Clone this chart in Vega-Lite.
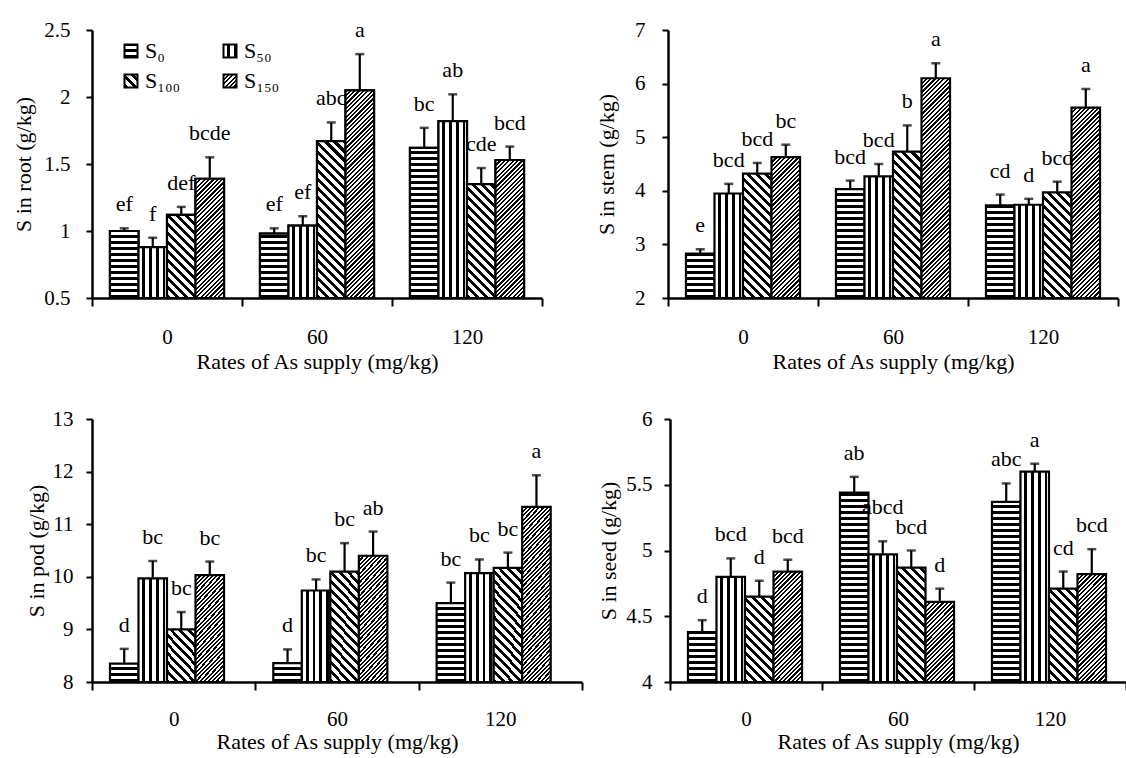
{
"$schema":"https://vega.github.io/schema/vega-lite/v6.json",
"background":"white",
"padding":{"left":12,"top":19,"right":0,"bottom":8},
"params":[
{"name":"stH","value":[{"offset":0,"color":"#000"},{"offset":0.011,"color":"#000"},{"offset":0.011,"color":"#fff"},{"offset":0.025,"color":"#fff"},{"offset":0.025,"color":"#000"},{"offset":0.036,"color":"#000"},{"offset":0.036,"color":"#fff"},{"offset":0.05,"color":"#fff"},{"offset":0.05,"color":"#000"},{"offset":0.061,"color":"#000"},{"offset":0.061,"color":"#fff"},{"offset":0.075,"color":"#fff"},{"offset":0.075,"color":"#000"},{"offset":0.086,"color":"#000"},{"offset":0.086,"color":"#fff"},{"offset":0.1,"color":"#fff"},{"offset":0.1,"color":"#000"},{"offset":0.111,"color":"#000"},{"offset":0.111,"color":"#fff"},{"offset":0.125,"color":"#fff"},{"offset":0.125,"color":"#000"},{"offset":0.136,"color":"#000"},{"offset":0.136,"color":"#fff"},{"offset":0.15,"color":"#fff"},{"offset":0.15,"color":"#000"},{"offset":0.161,"color":"#000"},{"offset":0.161,"color":"#fff"},{"offset":0.175,"color":"#fff"},{"offset":0.175,"color":"#000"},{"offset":0.186,"color":"#000"},{"offset":0.186,"color":"#fff"},{"offset":0.2,"color":"#fff"},{"offset":0.2,"color":"#000"},{"offset":0.211,"color":"#000"},{"offset":0.211,"color":"#fff"},{"offset":0.225,"color":"#fff"},{"offset":0.225,"color":"#000"},{"offset":0.236,"color":"#000"},{"offset":0.236,"color":"#fff"},{"offset":0.25,"color":"#fff"},{"offset":0.25,"color":"#000"},{"offset":0.261,"color":"#000"},{"offset":0.261,"color":"#fff"},{"offset":0.275,"color":"#fff"},{"offset":0.275,"color":"#000"},{"offset":0.286,"color":"#000"},{"offset":0.286,"color":"#fff"},{"offset":0.3,"color":"#fff"},{"offset":0.3,"color":"#000"},{"offset":0.311,"color":"#000"},{"offset":0.311,"color":"#fff"},{"offset":0.325,"color":"#fff"},{"offset":0.325,"color":"#000"},{"offset":0.336,"color":"#000"},{"offset":0.336,"color":"#fff"},{"offset":0.35,"color":"#fff"},{"offset":0.35,"color":"#000"},{"offset":0.361,"color":"#000"},{"offset":0.361,"color":"#fff"},{"offset":0.375,"color":"#fff"},{"offset":0.375,"color":"#000"},{"offset":0.386,"color":"#000"},{"offset":0.386,"color":"#fff"},{"offset":0.4,"color":"#fff"},{"offset":0.4,"color":"#000"},{"offset":0.411,"color":"#000"},{"offset":0.411,"color":"#fff"},{"offset":0.425,"color":"#fff"},{"offset":0.425,"color":"#000"},{"offset":0.436,"color":"#000"},{"offset":0.436,"color":"#fff"},{"offset":0.45,"color":"#fff"},{"offset":0.45,"color":"#000"},{"offset":0.461,"color":"#000"},{"offset":0.461,"color":"#fff"},{"offset":0.475,"color":"#fff"},{"offset":0.475,"color":"#000"},{"offset":0.486,"color":"#000"},{"offset":0.486,"color":"#fff"},{"offset":0.5,"color":"#fff"},{"offset":0.5,"color":"#000"},{"offset":0.511,"color":"#000"},{"offset":0.511,"color":"#fff"},{"offset":0.525,"color":"#fff"},{"offset":0.525,"color":"#000"},{"offset":0.536,"color":"#000"},{"offset":0.536,"color":"#fff"},{"offset":0.55,"color":"#fff"},{"offset":0.55,"color":"#000"},{"offset":0.561,"color":"#000"},{"offset":0.561,"color":"#fff"},{"offset":0.575,"color":"#fff"},{"offset":0.575,"color":"#000"},{"offset":0.586,"color":"#000"},{"offset":0.586,"color":"#fff"},{"offset":0.6,"color":"#fff"},{"offset":0.6,"color":"#000"},{"offset":0.611,"color":"#000"},{"offset":0.611,"color":"#fff"},{"offset":0.625,"color":"#fff"},{"offset":0.625,"color":"#000"},{"offset":0.636,"color":"#000"},{"offset":0.636,"color":"#fff"},{"offset":0.65,"color":"#fff"},{"offset":0.65,"color":"#000"},{"offset":0.661,"color":"#000"},{"offset":0.661,"color":"#fff"},{"offset":0.675,"color":"#fff"},{"offset":0.675,"color":"#000"},{"offset":0.686,"color":"#000"},{"offset":0.686,"color":"#fff"},{"offset":0.7,"color":"#fff"},{"offset":0.7,"color":"#000"},{"offset":0.711,"color":"#000"},{"offset":0.711,"color":"#fff"},{"offset":0.725,"color":"#fff"},{"offset":0.725,"color":"#000"},{"offset":0.736,"color":"#000"},{"offset":0.736,"color":"#fff"},{"offset":0.75,"color":"#fff"},{"offset":0.75,"color":"#000"},{"offset":0.761,"color":"#000"},{"offset":0.761,"color":"#fff"},{"offset":0.775,"color":"#fff"},{"offset":0.775,"color":"#000"},{"offset":0.786,"color":"#000"},{"offset":0.786,"color":"#fff"},{"offset":0.8,"color":"#fff"},{"offset":0.8,"color":"#000"},{"offset":0.811,"color":"#000"},{"offset":0.811,"color":"#fff"},{"offset":0.825,"color":"#fff"},{"offset":0.825,"color":"#000"},{"offset":0.836,"color":"#000"},{"offset":0.836,"color":"#fff"},{"offset":0.85,"color":"#fff"},{"offset":0.85,"color":"#000"},{"offset":0.861,"color":"#000"},{"offset":0.861,"color":"#fff"},{"offset":0.875,"color":"#fff"},{"offset":0.875,"color":"#000"},{"offset":0.886,"color":"#000"},{"offset":0.886,"color":"#fff"},{"offset":0.9,"color":"#fff"},{"offset":0.9,"color":"#000"},{"offset":0.911,"color":"#000"},{"offset":0.911,"color":"#fff"},{"offset":0.925,"color":"#fff"},{"offset":0.925,"color":"#000"},{"offset":0.936,"color":"#000"},{"offset":0.936,"color":"#fff"},{"offset":0.95,"color":"#fff"},{"offset":0.95,"color":"#000"},{"offset":0.961,"color":"#000"},{"offset":0.961,"color":"#fff"},{"offset":0.975,"color":"#fff"},{"offset":0.975,"color":"#000"},{"offset":0.986,"color":"#000"},{"offset":0.986,"color":"#fff"},{"offset":1,"color":"#fff"}]},
{"name":"stV","value":[{"offset":0,"color":"#fff"},{"offset":0.14,"color":"#fff"},{"offset":0.14,"color":"#000"},{"offset":0.235,"color":"#000"},{"offset":0.235,"color":"#fff"},{"offset":0.375,"color":"#fff"},{"offset":0.375,"color":"#000"},{"offset":0.47,"color":"#000"},{"offset":0.47,"color":"#fff"},{"offset":0.61,"color":"#fff"},{"offset":0.61,"color":"#000"},{"offset":0.705,"color":"#000"},{"offset":0.705,"color":"#fff"},{"offset":0.845,"color":"#fff"},{"offset":0.845,"color":"#000"},{"offset":0.94,"color":"#000"},{"offset":0.94,"color":"#fff"},{"offset":1,"color":"#fff"}]},
{"name":"stB","value":[{"offset":0,"color":"#000"},{"offset":0.018,"color":"#000"},{"offset":0.018,"color":"#fff"},{"offset":0.04,"color":"#fff"},{"offset":0.04,"color":"#000"},{"offset":0.058,"color":"#000"},{"offset":0.058,"color":"#fff"},{"offset":0.08,"color":"#fff"},{"offset":0.08,"color":"#000"},{"offset":0.098,"color":"#000"},{"offset":0.098,"color":"#fff"},{"offset":0.12,"color":"#fff"},{"offset":0.12,"color":"#000"},{"offset":0.138,"color":"#000"},{"offset":0.138,"color":"#fff"},{"offset":0.16,"color":"#fff"},{"offset":0.16,"color":"#000"},{"offset":0.178,"color":"#000"},{"offset":0.178,"color":"#fff"},{"offset":0.2,"color":"#fff"},{"offset":0.2,"color":"#000"},{"offset":0.218,"color":"#000"},{"offset":0.218,"color":"#fff"},{"offset":0.24,"color":"#fff"},{"offset":0.24,"color":"#000"},{"offset":0.258,"color":"#000"},{"offset":0.258,"color":"#fff"},{"offset":0.28,"color":"#fff"},{"offset":0.28,"color":"#000"},{"offset":0.298,"color":"#000"},{"offset":0.298,"color":"#fff"},{"offset":0.32,"color":"#fff"},{"offset":0.32,"color":"#000"},{"offset":0.338,"color":"#000"},{"offset":0.338,"color":"#fff"},{"offset":0.36,"color":"#fff"},{"offset":0.36,"color":"#000"},{"offset":0.378,"color":"#000"},{"offset":0.378,"color":"#fff"},{"offset":0.4,"color":"#fff"},{"offset":0.4,"color":"#000"},{"offset":0.418,"color":"#000"},{"offset":0.418,"color":"#fff"},{"offset":0.44,"color":"#fff"},{"offset":0.44,"color":"#000"},{"offset":0.458,"color":"#000"},{"offset":0.458,"color":"#fff"},{"offset":0.48,"color":"#fff"},{"offset":0.48,"color":"#000"},{"offset":0.498,"color":"#000"},{"offset":0.498,"color":"#fff"},{"offset":0.52,"color":"#fff"},{"offset":0.52,"color":"#000"},{"offset":0.538,"color":"#000"},{"offset":0.538,"color":"#fff"},{"offset":0.56,"color":"#fff"},{"offset":0.56,"color":"#000"},{"offset":0.578,"color":"#000"},{"offset":0.578,"color":"#fff"},{"offset":0.6,"color":"#fff"},{"offset":0.6,"color":"#000"},{"offset":0.618,"color":"#000"},{"offset":0.618,"color":"#fff"},{"offset":0.64,"color":"#fff"},{"offset":0.64,"color":"#000"},{"offset":0.658,"color":"#000"},{"offset":0.658,"color":"#fff"},{"offset":0.68,"color":"#fff"},{"offset":0.68,"color":"#000"},{"offset":0.698,"color":"#000"},{"offset":0.698,"color":"#fff"},{"offset":0.72,"color":"#fff"},{"offset":0.72,"color":"#000"},{"offset":0.738,"color":"#000"},{"offset":0.738,"color":"#fff"},{"offset":0.76,"color":"#fff"},{"offset":0.76,"color":"#000"},{"offset":0.778,"color":"#000"},{"offset":0.778,"color":"#fff"},{"offset":0.8,"color":"#fff"},{"offset":0.8,"color":"#000"},{"offset":0.818,"color":"#000"},{"offset":0.818,"color":"#fff"},{"offset":0.84,"color":"#fff"},{"offset":0.84,"color":"#000"},{"offset":0.858,"color":"#000"},{"offset":0.858,"color":"#fff"},{"offset":0.88,"color":"#fff"},{"offset":0.88,"color":"#000"},{"offset":0.898,"color":"#000"},{"offset":0.898,"color":"#fff"},{"offset":0.92,"color":"#fff"},{"offset":0.92,"color":"#000"},{"offset":0.938,"color":"#000"},{"offset":0.938,"color":"#fff"},{"offset":0.96,"color":"#fff"},{"offset":0.96,"color":"#000"},{"offset":0.978,"color":"#000"},{"offset":0.978,"color":"#fff"},{"offset":1,"color":"#fff"}]},
{"name":"stF","value":[{"offset":0,"color":"#000"},{"offset":0.008,"color":"#000"},{"offset":0.008,"color":"#fff"},{"offset":0.016,"color":"#fff"},{"offset":0.016,"color":"#000"},{"offset":0.024,"color":"#000"},{"offset":0.024,"color":"#fff"},{"offset":0.032,"color":"#fff"},{"offset":0.032,"color":"#000"},{"offset":0.04,"color":"#000"},{"offset":0.04,"color":"#fff"},{"offset":0.048,"color":"#fff"},{"offset":0.048,"color":"#000"},{"offset":0.056,"color":"#000"},{"offset":0.056,"color":"#fff"},{"offset":0.064,"color":"#fff"},{"offset":0.064,"color":"#000"},{"offset":0.072,"color":"#000"},{"offset":0.072,"color":"#fff"},{"offset":0.08,"color":"#fff"},{"offset":0.08,"color":"#000"},{"offset":0.088,"color":"#000"},{"offset":0.088,"color":"#fff"},{"offset":0.096,"color":"#fff"},{"offset":0.096,"color":"#000"},{"offset":0.104,"color":"#000"},{"offset":0.104,"color":"#fff"},{"offset":0.112,"color":"#fff"},{"offset":0.112,"color":"#000"},{"offset":0.12,"color":"#000"},{"offset":0.12,"color":"#fff"},{"offset":0.128,"color":"#fff"},{"offset":0.128,"color":"#000"},{"offset":0.136,"color":"#000"},{"offset":0.136,"color":"#fff"},{"offset":0.144,"color":"#fff"},{"offset":0.144,"color":"#000"},{"offset":0.152,"color":"#000"},{"offset":0.152,"color":"#fff"},{"offset":0.16,"color":"#fff"},{"offset":0.16,"color":"#000"},{"offset":0.168,"color":"#000"},{"offset":0.168,"color":"#fff"},{"offset":0.176,"color":"#fff"},{"offset":0.176,"color":"#000"},{"offset":0.184,"color":"#000"},{"offset":0.184,"color":"#fff"},{"offset":0.192,"color":"#fff"},{"offset":0.192,"color":"#000"},{"offset":0.2,"color":"#000"},{"offset":0.2,"color":"#fff"},{"offset":0.208,"color":"#fff"},{"offset":0.208,"color":"#000"},{"offset":0.216,"color":"#000"},{"offset":0.216,"color":"#fff"},{"offset":0.224,"color":"#fff"},{"offset":0.224,"color":"#000"},{"offset":0.232,"color":"#000"},{"offset":0.232,"color":"#fff"},{"offset":0.24,"color":"#fff"},{"offset":0.24,"color":"#000"},{"offset":0.248,"color":"#000"},{"offset":0.248,"color":"#fff"},{"offset":0.256,"color":"#fff"},{"offset":0.256,"color":"#000"},{"offset":0.264,"color":"#000"},{"offset":0.264,"color":"#fff"},{"offset":0.272,"color":"#fff"},{"offset":0.272,"color":"#000"},{"offset":0.28,"color":"#000"},{"offset":0.28,"color":"#fff"},{"offset":0.288,"color":"#fff"},{"offset":0.288,"color":"#000"},{"offset":0.296,"color":"#000"},{"offset":0.296,"color":"#fff"},{"offset":0.304,"color":"#fff"},{"offset":0.304,"color":"#000"},{"offset":0.312,"color":"#000"},{"offset":0.312,"color":"#fff"},{"offset":0.32,"color":"#fff"},{"offset":0.32,"color":"#000"},{"offset":0.328,"color":"#000"},{"offset":0.328,"color":"#fff"},{"offset":0.336,"color":"#fff"},{"offset":0.336,"color":"#000"},{"offset":0.344,"color":"#000"},{"offset":0.344,"color":"#fff"},{"offset":0.352,"color":"#fff"},{"offset":0.352,"color":"#000"},{"offset":0.36,"color":"#000"},{"offset":0.36,"color":"#fff"},{"offset":0.368,"color":"#fff"},{"offset":0.368,"color":"#000"},{"offset":0.376,"color":"#000"},{"offset":0.376,"color":"#fff"},{"offset":0.384,"color":"#fff"},{"offset":0.384,"color":"#000"},{"offset":0.392,"color":"#000"},{"offset":0.392,"color":"#fff"},{"offset":0.4,"color":"#fff"},{"offset":0.4,"color":"#000"},{"offset":0.408,"color":"#000"},{"offset":0.408,"color":"#fff"},{"offset":0.416,"color":"#fff"},{"offset":0.416,"color":"#000"},{"offset":0.424,"color":"#000"},{"offset":0.424,"color":"#fff"},{"offset":0.432,"color":"#fff"},{"offset":0.432,"color":"#000"},{"offset":0.44,"color":"#000"},{"offset":0.44,"color":"#fff"},{"offset":0.448,"color":"#fff"},{"offset":0.448,"color":"#000"},{"offset":0.456,"color":"#000"},{"offset":0.456,"color":"#fff"},{"offset":0.464,"color":"#fff"},{"offset":0.464,"color":"#000"},{"offset":0.472,"color":"#000"},{"offset":0.472,"color":"#fff"},{"offset":0.48,"color":"#fff"},{"offset":0.48,"color":"#000"},{"offset":0.488,"color":"#000"},{"offset":0.488,"color":"#fff"},{"offset":0.496,"color":"#fff"},{"offset":0.496,"color":"#000"},{"offset":0.504,"color":"#000"},{"offset":0.504,"color":"#fff"},{"offset":0.512,"color":"#fff"},{"offset":0.512,"color":"#000"},{"offset":0.52,"color":"#000"},{"offset":0.52,"color":"#fff"},{"offset":0.528,"color":"#fff"},{"offset":0.528,"color":"#000"},{"offset":0.536,"color":"#000"},{"offset":0.536,"color":"#fff"},{"offset":0.544,"color":"#fff"},{"offset":0.544,"color":"#000"},{"offset":0.552,"color":"#000"},{"offset":0.552,"color":"#fff"},{"offset":0.56,"color":"#fff"},{"offset":0.56,"color":"#000"},{"offset":0.568,"color":"#000"},{"offset":0.568,"color":"#fff"},{"offset":0.576,"color":"#fff"},{"offset":0.576,"color":"#000"},{"offset":0.584,"color":"#000"},{"offset":0.584,"color":"#fff"},{"offset":0.592,"color":"#fff"},{"offset":0.592,"color":"#000"},{"offset":0.6,"color":"#000"},{"offset":0.6,"color":"#fff"},{"offset":0.608,"color":"#fff"},{"offset":0.608,"color":"#000"},{"offset":0.616,"color":"#000"},{"offset":0.616,"color":"#fff"},{"offset":0.624,"color":"#fff"},{"offset":0.624,"color":"#000"},{"offset":0.632,"color":"#000"},{"offset":0.632,"color":"#fff"},{"offset":0.64,"color":"#fff"},{"offset":0.64,"color":"#000"},{"offset":0.648,"color":"#000"},{"offset":0.648,"color":"#fff"},{"offset":0.656,"color":"#fff"},{"offset":0.656,"color":"#000"},{"offset":0.664,"color":"#000"},{"offset":0.664,"color":"#fff"},{"offset":0.672,"color":"#fff"},{"offset":0.672,"color":"#000"},{"offset":0.68,"color":"#000"},{"offset":0.68,"color":"#fff"},{"offset":0.688,"color":"#fff"},{"offset":0.688,"color":"#000"},{"offset":0.696,"color":"#000"},{"offset":0.696,"color":"#fff"},{"offset":0.704,"color":"#fff"},{"offset":0.704,"color":"#000"},{"offset":0.712,"color":"#000"},{"offset":0.712,"color":"#fff"},{"offset":0.72,"color":"#fff"},{"offset":0.72,"color":"#000"},{"offset":0.728,"color":"#000"},{"offset":0.728,"color":"#fff"},{"offset":0.736,"color":"#fff"},{"offset":0.736,"color":"#000"},{"offset":0.744,"color":"#000"},{"offset":0.744,"color":"#fff"},{"offset":0.752,"color":"#fff"},{"offset":0.752,"color":"#000"},{"offset":0.76,"color":"#000"},{"offset":0.76,"color":"#fff"},{"offset":0.768,"color":"#fff"},{"offset":0.768,"color":"#000"},{"offset":0.776,"color":"#000"},{"offset":0.776,"color":"#fff"},{"offset":0.784,"color":"#fff"},{"offset":0.784,"color":"#000"},{"offset":0.792,"color":"#000"},{"offset":0.792,"color":"#fff"},{"offset":0.8,"color":"#fff"},{"offset":0.8,"color":"#000"},{"offset":0.808,"color":"#000"},{"offset":0.808,"color":"#fff"},{"offset":0.816,"color":"#fff"},{"offset":0.816,"color":"#000"},{"offset":0.824,"color":"#000"},{"offset":0.824,"color":"#fff"},{"offset":0.832,"color":"#fff"},{"offset":0.832,"color":"#000"},{"offset":0.84,"color":"#000"},{"offset":0.84,"color":"#fff"},{"offset":0.848,"color":"#fff"},{"offset":0.848,"color":"#000"},{"offset":0.856,"color":"#000"},{"offset":0.856,"color":"#fff"},{"offset":0.864,"color":"#fff"},{"offset":0.864,"color":"#000"},{"offset":0.872,"color":"#000"},{"offset":0.872,"color":"#fff"},{"offset":0.88,"color":"#fff"},{"offset":0.88,"color":"#000"},{"offset":0.888,"color":"#000"},{"offset":0.888,"color":"#fff"},{"offset":0.896,"color":"#fff"},{"offset":0.896,"color":"#000"},{"offset":0.904,"color":"#000"},{"offset":0.904,"color":"#fff"},{"offset":0.912,"color":"#fff"},{"offset":0.912,"color":"#000"},{"offset":0.92,"color":"#000"},{"offset":0.92,"color":"#fff"},{"offset":0.928,"color":"#fff"},{"offset":0.928,"color":"#000"},{"offset":0.936,"color":"#000"},{"offset":0.936,"color":"#fff"},{"offset":0.944,"color":"#fff"},{"offset":0.944,"color":"#000"},{"offset":0.952,"color":"#000"},{"offset":0.952,"color":"#fff"},{"offset":0.96,"color":"#fff"},{"offset":0.96,"color":"#000"},{"offset":0.968,"color":"#000"},{"offset":0.968,"color":"#fff"},{"offset":0.976,"color":"#fff"},{"offset":0.976,"color":"#000"},{"offset":0.984,"color":"#000"},{"offset":0.984,"color":"#fff"},{"offset":0.992,"color":"#fff"},{"offset":0.992,"color":"#000"},{"offset":1,"color":"#000"}]}
],
"datasets":{
"dRoot":[
{"rate":"0","s":"S0","v":1.0,"up":1.02,"lab":"ef"},
{"rate":"0","s":"S50","v":0.88,"up":0.95,"lab":"f"},
{"rate":"0","s":"S100","v":1.12,"up":1.18,"lab":"def"},
{"rate":"0","s":"S150","v":1.39,"up":1.55,"lab":"bcde"},
{"rate":"60","s":"S0","v":0.98,"up":1.02,"lab":"ef"},
{"rate":"60","s":"S50","v":1.04,"up":1.11,"lab":"ef"},
{"rate":"60","s":"S100","v":1.67,"up":1.81,"lab":"abc"},
{"rate":"60","s":"S150","v":2.05,"up":2.32,"lab":"a"},
{"rate":"120","s":"S0","v":1.62,"up":1.77,"lab":"bc"},
{"rate":"120","s":"S50","v":1.82,"up":2.02,"lab":"ab"},
{"rate":"120","s":"S100","v":1.35,"up":1.47,"lab":"cde"},
{"rate":"120","s":"S150","v":1.53,"up":1.63,"lab":"bcd"}],
"dStem":[
{"rate":"0","s":"S0","v":2.83,"up":2.91,"lab":"e"},
{"rate":"0","s":"S50","v":3.95,"up":4.13,"lab":"bcd"},
{"rate":"0","s":"S100","v":4.32,"up":4.52,"lab":"bcd"},
{"rate":"0","s":"S150","v":4.63,"up":4.86,"lab":"bc"},
{"rate":"60","s":"S0","v":4.03,"up":4.19,"lab":"bcd"},
{"rate":"60","s":"S50","v":4.27,"up":4.5,"lab":"bcd"},
{"rate":"60","s":"S100","v":4.73,"up":5.22,"lab":"b"},
{"rate":"60","s":"S150","v":6.1,"up":6.38,"lab":"a"},
{"rate":"120","s":"S0","v":3.73,"up":3.93,"lab":"cd"},
{"rate":"120","s":"S50","v":3.74,"up":3.85,"lab":"d"},
{"rate":"120","s":"S100","v":3.97,"up":4.17,"lab":"bcd"},
{"rate":"120","s":"S150","v":5.55,"up":5.9,"lab":"a"}],
"dPod":[
{"rate":"0","s":"S0","v":8.35,"up":8.63,"lab":"d"},
{"rate":"0","s":"S50","v":9.97,"up":10.3,"lab":"bc"},
{"rate":"0","s":"S100","v":9.0,"up":9.33,"lab":"bc"},
{"rate":"0","s":"S150","v":10.03,"up":10.29,"lab":"bc"},
{"rate":"60","s":"S0","v":8.36,"up":8.62,"lab":"d"},
{"rate":"60","s":"S50","v":9.74,"up":9.95,"lab":"bc"},
{"rate":"60","s":"S100","v":10.1,"up":10.64,"lab":"bc"},
{"rate":"60","s":"S150","v":10.4,"up":10.86,"lab":"ab"},
{"rate":"120","s":"S0","v":9.5,"up":9.89,"lab":"bc"},
{"rate":"120","s":"S50","v":10.07,"up":10.33,"lab":"bc"},
{"rate":"120","s":"S100","v":10.17,"up":10.46,"lab":"bc"},
{"rate":"120","s":"S150","v":11.33,"up":11.93,"lab":"a"}],
"dSeed":[
{"rate":"0","s":"S0","v":4.38,"up":4.47,"lab":"d"},
{"rate":"0","s":"S50","v":4.8,"up":4.94,"lab":"bcd"},
{"rate":"0","s":"S100","v":4.65,"up":4.77,"lab":"d"},
{"rate":"0","s":"S150","v":4.84,"up":4.93,"lab":"bcd"},
{"rate":"60","s":"S0","v":5.44,"up":5.56,"lab":"ab"},
{"rate":"60","s":"S50","v":4.97,"up":5.07,"lab":"abcd"},
{"rate":"60","s":"S100","v":4.87,"up":5.0,"lab":"bcd"},
{"rate":"60","s":"S150","v":4.61,"up":4.71,"lab":"d"},
{"rate":"120","s":"S0","v":5.37,"up":5.51,"lab":"abc"},
{"rate":"120","s":"S50","v":5.6,"up":5.66,"lab":"a"},
{"rate":"120","s":"S100","v":4.71,"up":4.84,"lab":"cd"},
{"rate":"120","s":"S150","v":4.82,"up":5.01,"lab":"bcd"}]
},
"config":{
"view":{"stroke":null},
"font":"Liberation Serif",
"axis":{"domainColor":"#000","domainWidth":2.5,"tickColor":"#000","tickWidth":2,"labelFont":"Liberation Serif","labelFontSize":21,"labelColor":"#000","titleFont":"Liberation Serif","titleFontSize":22,"titleFontWeight":"normal","titleColor":"#000","grid":false},
"axisX":{"tickBand":"extent","tickSize":8,"labelPadding":20,"titlePadding":4,"labelAngle":0},
"axisY":{"tickSize":6,"labelPadding":16},
"text":{"font":"Liberation Serif","fontSize":22,"color":"#000"}
},
"resolve":{"scale":{"fill":"independent"},"legend":{"fill":"independent"}},
"align":"none",
"spacing":36,
"vconcat":[
{"spacing":52,"resolve":{"scale":{"fill":"independent"},"legend":{"fill":"independent"}},"hconcat":[
{"width":450,"height":268,"data":{"name":"dRoot"},
"encoding":{
"x":{"field":"rate","type":"nominal","sort":["0","60","120"],"scale":{"paddingInner":0,"paddingOuter":0},"axis":{"title":"Rates of As supply (mg/kg)","labelPadding":20,"titlePadding":4}},
"xOffset":{"field":"s","type":"nominal","sort":["S0","S50","S100","S150"],"scale":{"paddingInner":0,"paddingOuter":0.63}}},
"layer":[
{"mark":{"type":"bar","stroke":"#000","strokeWidth":2.2},
"encoding":{
"y":{"field":"v","type":"quantitative","stack":null,"scale":{"domain":[0.5,2.5],"nice":false,"zero":false},"axis":{"values":[0.5,1,1.5,2,2.5],"format":"~g","title":"S in root (g/kg)","titlePadding":8,"labelPadding":16}},
"y2":{"datum":0.5},
"fill":{"field":"s","type":"nominal","scale":{"domain":["S0","S50","S100","S150"],"range":[{"expr":"{gradient:'linear',x1:0,y1:1,x2:0,y2:-17.46,stops:stH}"},{"expr":"{gradient:'linear',x1:0,y1:0,x2:2.19,y2:0,stops:stV}"},{"expr":"{gradient:'linear',x1:0,y1:1,x2:8.704,y2:-7.704,stops:stB}"},{"expr":"{gradient:'linear',x1:0,y1:0,x2:10.554,y2:10.554,stops:stF}"}]},
"legend":{"orient":"none","legendX":28,"legendY":10,"direction":"horizontal","columns":2,"title":null,"symbolType":"square","symbolSize":169,"symbolStrokeColor":"#000","symbolStrokeWidth":2,"labelFont":"Liberation Serif","labelFontSize":22,"labelColor":"#000","labelOffset":3,"columnPadding":38,"rowPadding":8,"labelExpr":"datum.label=='S0'?'S₀':datum.label=='S50'?'S₅₀':datum.label=='S100'?'S₁₀₀':'S₁₅₀'"}}}},
{"mark":{"type":"bar","stroke":"#000","strokeWidth":2.2,"fill":{"expr":"datum.s=='S0'?{gradient:'linear',x1:0,y1:1,x2:0,y2:1-240/((datum.v-0.5)*134),stops:stH}:datum.s=='S50'?{gradient:'linear',x1:0,y1:0,x2:1,y2:0,stops:stV}:datum.s=='S100'?{gradient:'linear',x1:0,y1:1,x2:226.3*28.52/(813.4+pow((datum.v-0.5)*134,2)),y2:1-226.3*(datum.v-0.5)*134/(813.4+pow((datum.v-0.5)*134,2)),stops:stB}:{gradient:'linear',x1:0,y1:0,x2:274.4*28.52/(813.4+pow((datum.v-0.5)*134,2)),y2:274.4*(datum.v-0.5)*134/(813.4+pow((datum.v-0.5)*134,2)),stops:stF}"}},
"encoding":{"y":{"field":"v","type":"quantitative","stack":null},"y2":{"datum":0.5}}},
{"mark":{"type":"rule","stroke":"#000","strokeWidth":2.2},"encoding":{"y":{"field":"v","type":"quantitative"},"y2":{"field":"up"}}},
{"mark":{"type":"tick","orient":"horizontal","color":"#000","thickness":2.5,"size":9},"encoding":{"y":{"field":"up","type":"quantitative"}}},
{"mark":{"type":"text","dy":-17,"baseline":"alphabetic","font":"Liberation Serif","fontSize":22,"color":"#000"},"encoding":{"y":{"field":"up","type":"quantitative"},"text":{"field":"lab"}}}
]},
{"width":450,"height":268,"data":{"name":"dStem"},
"encoding":{
"x":{"field":"rate","type":"nominal","sort":["0","60","120"],"scale":{"paddingInner":0,"paddingOuter":0},"axis":{"title":"Rates of As supply (mg/kg)","labelPadding":20,"titlePadding":4}},
"xOffset":{"field":"s","type":"nominal","sort":["S0","S50","S100","S150"],"scale":{"paddingInner":0,"paddingOuter":0.63}}},
"layer":[
{"mark":{"type":"bar","stroke":"#000","strokeWidth":2.2,"fill":{"expr":"datum.s=='S0'?{gradient:'linear',x1:0,y1:1,x2:0,y2:1-240/((datum.v-2)*53.6),stops:stH}:datum.s=='S50'?{gradient:'linear',x1:0,y1:0,x2:1,y2:0,stops:stV}:datum.s=='S100'?{gradient:'linear',x1:0,y1:1,x2:226.3*28.52/(813.4+pow((datum.v-2)*53.6,2)),y2:1-226.3*(datum.v-2)*53.6/(813.4+pow((datum.v-2)*53.6,2)),stops:stB}:{gradient:'linear',x1:0,y1:0,x2:274.4*28.52/(813.4+pow((datum.v-2)*53.6,2)),y2:274.4*(datum.v-2)*53.6/(813.4+pow((datum.v-2)*53.6,2)),stops:stF}"}},
"encoding":{"y":{"field":"v","type":"quantitative","stack":null,"scale":{"domain":[2,7],"nice":false,"zero":false},"axis":{"values":[2,3,4,5,6,7],"format":"~g","title":"S in stem (g/kg)","titlePadding":16,"labelPadding":17}},"y2":{"datum":2}}},
{"mark":{"type":"rule","stroke":"#000","strokeWidth":2.2},"encoding":{"y":{"field":"v","type":"quantitative"},"y2":{"field":"up"}}},
{"mark":{"type":"tick","orient":"horizontal","color":"#000","thickness":2.5,"size":9},"encoding":{"y":{"field":"up","type":"quantitative"}}},
{"mark":{"type":"text","dy":-17,"baseline":"alphabetic","font":"Liberation Serif","fontSize":22,"color":"#000"},"encoding":{"y":{"field":"up","type":"quantitative"},"text":{"field":"lab"}}}
]}
]},
{"spacing":14,"hconcat":[
{"width":490,"height":263,"data":{"name":"dPod"},
"encoding":{
"x":{"field":"rate","type":"nominal","sort":["0","60","120"],"scale":{"paddingInner":0,"paddingOuter":0},"axis":{"title":"Rates of As supply (mg/kg)","labelPadding":18,"titlePadding":2}},
"xOffset":{"field":"s","type":"nominal","sort":["S0","S50","S100","S150"],"scale":{"paddingInner":0,"paddingOuter":0.72}}},
"layer":[
{"mark":{"type":"bar","stroke":"#000","strokeWidth":2.2,"fill":{"expr":"datum.s=='S0'?{gradient:'linear',x1:0,y1:1,x2:0,y2:1-240/((datum.v-8)*52.6),stops:stH}:datum.s=='S50'?{gradient:'linear',x1:0,y1:0,x2:1,y2:0,stops:stV}:datum.s=='S100'?{gradient:'linear',x1:0,y1:1,x2:226.3*30.02/(901.2+pow((datum.v-8)*52.6,2)),y2:1-226.3*(datum.v-8)*52.6/(901.2+pow((datum.v-8)*52.6,2)),stops:stB}:{gradient:'linear',x1:0,y1:0,x2:274.4*30.02/(901.2+pow((datum.v-8)*52.6,2)),y2:274.4*(datum.v-8)*52.6/(901.2+pow((datum.v-8)*52.6,2)),stops:stF}"}},
"encoding":{"y":{"field":"v","type":"quantitative","stack":null,"scale":{"domain":[8,13],"nice":false,"zero":false},"axis":{"values":[8,9,10,11,12,13],"format":"~g","title":"S in pod (g/kg)","titlePadding":4,"labelPadding":13}},"y2":{"datum":8}}},
{"mark":{"type":"rule","stroke":"#000","strokeWidth":2.2},"encoding":{"y":{"field":"v","type":"quantitative"},"y2":{"field":"up"}}},
{"mark":{"type":"tick","orient":"horizontal","color":"#000","thickness":2.5,"size":9},"encoding":{"y":{"field":"up","type":"quantitative"}}},
{"mark":{"type":"text","dy":-17,"baseline":"alphabetic","font":"Liberation Serif","fontSize":22,"color":"#000"},"encoding":{"y":{"field":"up","type":"quantitative"},"text":{"field":"lab"}}}
]},
{"width":456,"height":263,"data":{"name":"dSeed"},
"encoding":{
"x":{"field":"rate","type":"nominal","sort":["0","60","120"],"scale":{"paddingInner":0,"paddingOuter":0},"axis":{"title":"Rates of As supply (mg/kg)","labelPadding":18,"titlePadding":2}},
"xOffset":{"field":"s","type":"nominal","sort":["S0","S50","S100","S150"],"scale":{"paddingInner":0,"paddingOuter":0.66}}},
"layer":[
{"mark":{"type":"bar","stroke":"#000","strokeWidth":2.2,"fill":{"expr":"datum.s=='S0'?{gradient:'linear',x1:0,y1:1,x2:0,y2:1-240/((datum.v-4)*131.5),stops:stH}:datum.s=='S50'?{gradient:'linear',x1:0,y1:0,x2:1,y2:0,stops:stV}:datum.s=='S100'?{gradient:'linear',x1:0,y1:1,x2:226.3*28.57/(816.2+pow((datum.v-4)*131.5,2)),y2:1-226.3*(datum.v-4)*131.5/(816.2+pow((datum.v-4)*131.5,2)),stops:stB}:{gradient:'linear',x1:0,y1:0,x2:274.4*28.57/(816.2+pow((datum.v-4)*131.5,2)),y2:274.4*(datum.v-4)*131.5/(816.2+pow((datum.v-4)*131.5,2)),stops:stF}"}},
"encoding":{"y":{"field":"v","type":"quantitative","stack":null,"scale":{"domain":[4,6],"nice":false,"zero":false},"axis":{"values":[4,4.5,5,5.5,6],"format":"~g","title":"S in seed (g/kg)","titlePadding":5,"labelPadding":12}},"y2":{"datum":4}}},
{"mark":{"type":"rule","stroke":"#000","strokeWidth":2.2},"encoding":{"y":{"field":"v","type":"quantitative"},"y2":{"field":"up"}}},
{"mark":{"type":"tick","orient":"horizontal","color":"#000","thickness":2.5,"size":9},"encoding":{"y":{"field":"up","type":"quantitative"}}},
{"mark":{"type":"text","dy":{"expr":"datum.lab=='abcd'?-27:-17"},"baseline":"alphabetic","font":"Liberation Serif","fontSize":22,"color":"#000"},"encoding":{"y":{"field":"up","type":"quantitative"},"text":{"field":"lab"}}}
]}
]}
]
}
